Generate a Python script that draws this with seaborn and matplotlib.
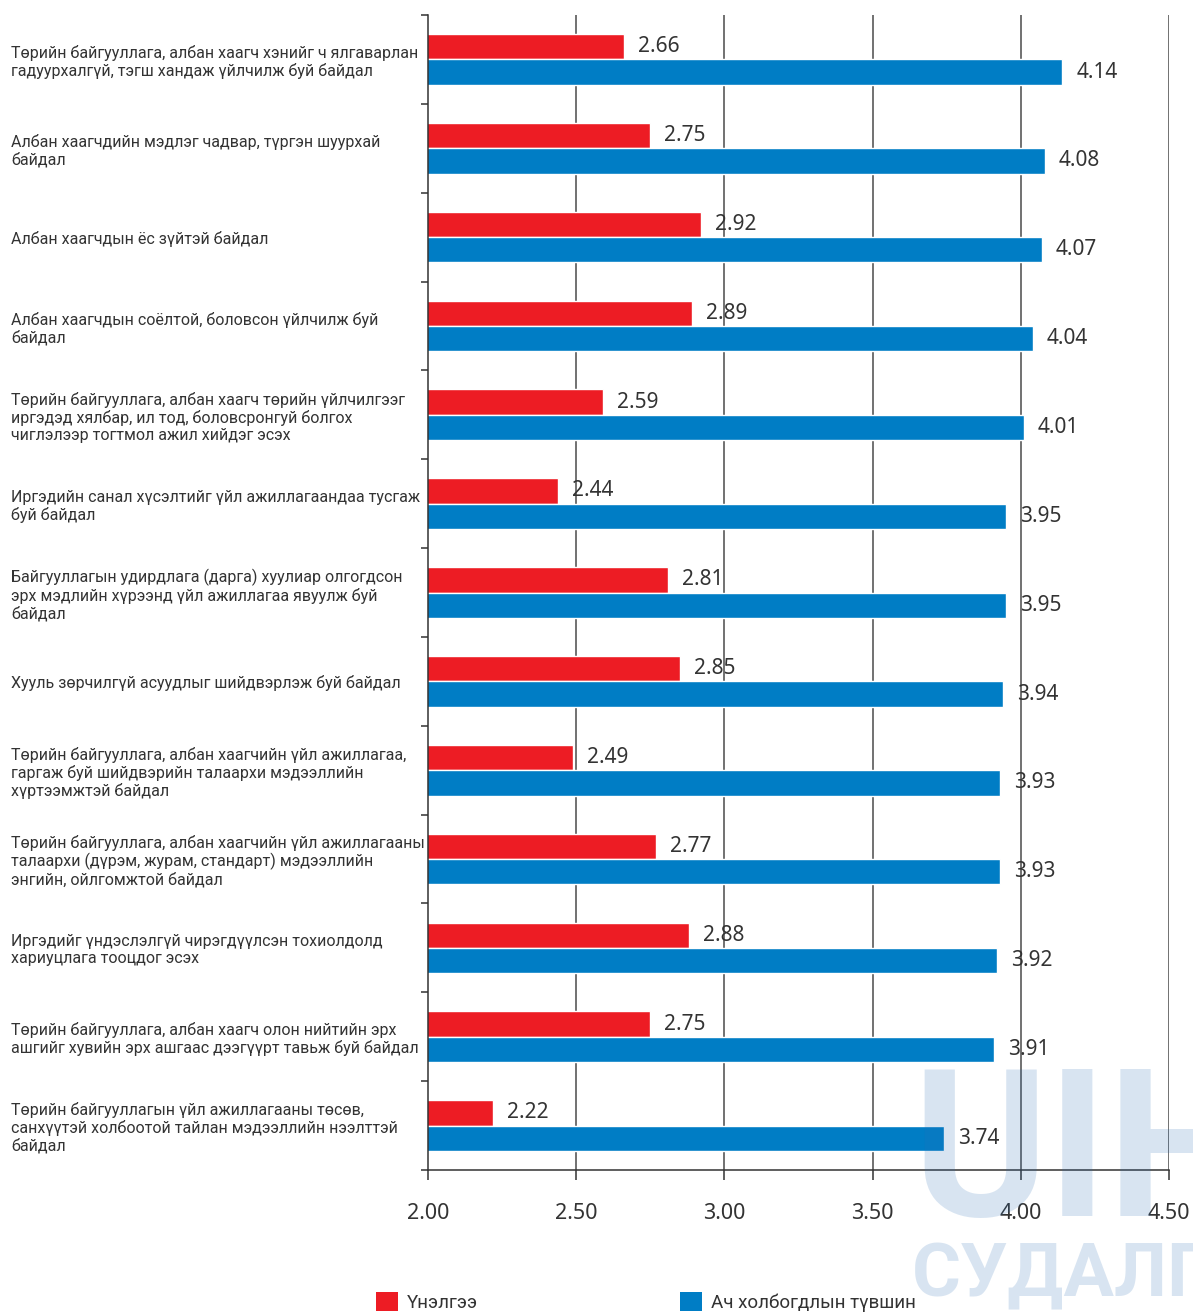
import matplotlib
matplotlib.use("Agg")
import matplotlib.pyplot as plt
from matplotlib.patches import Patch
import numpy as np
import pandas as pd
import seaborn as sns

categories = [
    "Төрийн байгууллага, албан хаагч хэнийг ч ялгаварлан\nгадуурхалгүй, тэгш хандаж үйлчилж буй байдал",
    "Албан хаагчдийн мэдлэг чадвар, түргэн шуурхай\nбайдал",
    "Албан хаагчдын ёс зүйтэй байдал",
    "Албан хаагчдын соёлтой, боловсон үйлчилж буй\nбайдал",
    "Төрийн байгууллага, албан хаагч төрийн үйлчилгээг\nиргэдэд хялбар, ил тод, боловсронгуй болгох\nчиглэлээр тогтмол ажил хийдэг эсэх",
    "Иргэдийн санал хүсэлтийг үйл ажиллагаандаа тусгаж\nбуй байдал",
    "Байгууллагын удирдлага (дарга) хуулиар олгогдсон\nэрх мэдлийн хүрээнд үйл ажиллагаа явуулж буй\nбайдал",
    "Хууль зөрчилгүй асуудлыг шийдвэрлэж буй байдал",
    "Төрийн байгууллага, албан хаагчийн үйл ажиллагаа,\nгаргаж буй шийдвэрийн талаархи мэдээллийн\nхүртээмжтэй байдал",
    "Төрийн байгууллага, албан хаагчийн үйл ажиллагааны\nталаархи (дүрэм, журам, стандарт) мэдээллийн\nэнгийн, ойлгомжтой байдал",
    "Иргэдийг үндэслэлгүй чирэгдүүлсэн тохиолдолд\nхариуцлага тооцдог эсэх",
    "Төрийн байгууллага, албан хаагч олон нийтийн эрх\nашгийг хувийн эрх ашгаас дээгүүрт тавьж буй байдал",
    "Төрийн байгууллагын үйл ажиллагааны төсөв,\nсанхүүтэй холбоотой тайлан мэдээллийн нээлттэй\nбайдал",
]
series_names = ["Үнэлгээ", "Ач холбогдлын түвшин"]
rating = [2.66, 2.75, 2.92, 2.89, 2.59, 2.44, 2.81, 2.85, 2.49, 2.77, 2.88, 2.75, 2.22]
importance = [4.14, 4.08, 4.07, 4.04, 4.01, 3.95, 3.95, 3.94, 3.93, 3.93, 3.92, 3.91, 3.74]
x_ticks = [2.00, 2.50, 3.00, 3.50, 4.00, 4.50]

RED = "#ED1C24"
BLUE = "#007DC5"
INK = "#333333"

df = pd.DataFrame({
    "category": categories * 2,
    "series": [series_names[0]] * len(categories) + [series_names[1]] * len(categories),
    "value": rating + importance,
})

sns.set_theme(style="white")
plt.rcParams["font.family"] = ["Noto Sans", "DejaVu Sans"]
label_family = ["Roboto", "Noto Sans", "DejaVu Sans"]

fig = plt.figure(figsize=(11.93, 13.13), dpi=100)
ax = fig.add_axes([428 / 1193, 1 - 1170 / 1313, (1169 - 428) / 1193, (1170 - 15) / 1313])

# vertical reference lines behind the bars
for xv in x_ticks[1:]:
    ax.axvline(xv, color="#4a4a4a", lw=1.1, zorder=0)

sns.barplot(
    data=df, y="category", x="value", hue="series", orient="h",
    order=categories, hue_order=series_names,
    palette=[RED, BLUE], width=0.57, gap=0, dodge=True,
    saturation=1, legend=False, ax=ax, zorder=2,
)

for cont in ax.containers:
    ax.bar_label(cont, fmt="%.2f", padding=10, fontsize=15, color=INK,
                 family=["Noto Sans", "DejaVu Sans"])

ax.set_xlim(2.0, 4.5)
ax.set_ylim(len(categories) - 0.5, -0.5)
ax.set_xlabel("")
ax.set_ylabel("")
ax.set_xticks(x_ticks)
ax.set_xticklabels([f"{v:.2f}" for v in x_ticks], fontsize=15.5, color=INK)
ax.tick_params(axis="x", which="major", direction="out", length=7, width=1.1,
               color=INK, pad=17, bottom=True)

# category labels flush left, tick marks at the row boundaries
ax.set_yticks(np.arange(len(categories)))
ax.set_yticklabels(categories, fontsize=11.5, color=INK, linespacing=1.15,
                   family=label_family)
for lab in ax.get_yticklabels():
    lab.set_horizontalalignment("left")
ax.tick_params(axis="y", which="major", length=0, pad=300)
ax.set_yticks(np.arange(len(categories) + 1) - 0.5, minor=True)
ax.tick_params(axis="y", which="minor", direction="out", length=5, width=1.1,
               color=INK, left=True)

for side in ["top", "right"]:
    ax.spines[side].set_visible(False)
for side in ["left", "bottom"]:
    ax.spines[side].set_color(INK)
    ax.spines[side].set_linewidth(1.1)
    ax.spines[side].set_zorder(3)

# legend entries
legend_kw = dict(loc="upper left", frameon=False, handlelength=1.15,
                 handleheight=1.15, handletextpad=0.5, borderpad=0, borderaxespad=0,
                 labelcolor=INK, prop={"family": label_family, "size": 13.5})
fig.legend(handles=[Patch(facecolor=RED, edgecolor="none")], labels=[series_names[0]],
           bbox_to_anchor=(376 / 1193, 1 - 1292 / 1313), **legend_kw)
fig.legend(handles=[Patch(facecolor=BLUE, edgecolor="none")], labels=[series_names[1]],
           bbox_to_anchor=(680 / 1193, 1 - 1292 / 1313), **legend_kw)

# publisher watermark
wm_family = ["Roboto", "DejaVu Sans"]
fig.text(912 / 1193, 1 - 1216 / 1313, "UIH.MN", fontsize=148, fontweight="bold",
         color="#2a6db5", alpha=0.18, family=wm_family, ha="left", va="baseline", zorder=10)
fig.text(912 / 1193, 1 - 1296 / 1313, "СУДАЛГААНЫ", fontsize=54, fontweight="bold",
         color="#2a6db5", alpha=0.18, family=wm_family, ha="left", va="baseline", zorder=10)

fig.savefig("out.png", dpi=100)
